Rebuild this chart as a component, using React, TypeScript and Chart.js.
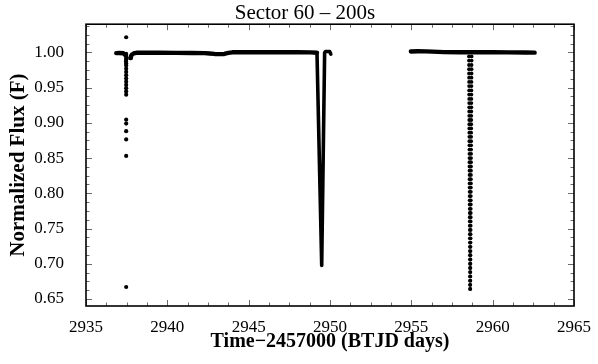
import { useEffect, useRef } from "react";
import { Chart, registerables } from "chart.js";

Chart.register(...registerables);

const SERIF = "'Liberation Serif', 'Times New Roman', Times, serif";

const TITLE = "Sector 60 – 200s";
const X_TITLE = "Time−2457000 (BTJD days)";
const Y_TITLE = "Normalized Flux (F)";

const X_MIN = 2935;
const X_MAX = 2965;
const Y_MIN = 0.64;
const Y_MAX = 1.04;
const X_TICKS = [2935, 2940, 2945, 2950, 2955, 2960, 2965];
const Y_TICKS = [0.65, 0.7, 0.75, 0.8, 0.85, 0.9, 0.95, 1.0];

// Dense 200 s cadence baseline, drawn as a thick stroke (segment before the momentum-dump column)
const BAND_A1_TIME = [2936.86, 2937.05, 2937.3, 2937.42];
const BAND_A1_FLUX = [0.999, 0.9991, 0.9988, 0.996];

// Baseline of the first orbit, after the column, up to the first eclipse
const BAND_A2_TIME = [
  2937.72, 2937.76, 2937.83, 2937.95, 2938.1, 2938.6, 2939.5, 2940.5, 2941.5, 2942.3,
  2942.6, 2942.9, 2943.2, 2943.5, 2943.75, 2944.0, 2945.0, 2946.0, 2947.0, 2948.0,
  2948.8, 2949.2,
];
const BAND_A2_FLUX = [
  0.992, 0.9945, 0.997, 0.9988, 0.9994, 0.9995, 0.9994, 0.9993, 0.9992, 0.999,
  0.9984, 0.9978, 0.9975, 0.9978, 0.9992, 1.0001, 1.0002, 1.0002, 1.0001, 1.0001,
  1.0, 0.9995,
];

// First (primary) eclipse and the short stretch after it
const DIP1_TIME = [2949.2, 2949.49, 2949.67, 2949.72, 2949.98, 2950.05];
const DIP1_FLUX = [0.9995, 0.6975, 0.9995, 1.0012, 1.0012, 0.9975];

// Baseline of the second orbit
const BAND_B_TIME = [
  2954.97, 2955.4, 2955.9, 2956.3, 2957.0, 2958.0, 2959.0, 2960.0, 2961.0, 2962.0, 2962.58,
];
const BAND_B_FLUX = [
  1.0012, 1.0016, 1.0014, 1.001, 1.0004, 1.0002, 1.0002, 1.0001, 1.0, 0.9998, 0.9996,
];

// Scattered points in the column near 2937.47
const COLUMN_TIME = [
  2937.47, 2937.47, 2937.46, 2937.47, 2937.47, 2937.46, 2937.47, 2937.47, 2937.47, 2937.47,
  2937.47, 2937.47, 2937.47, 2937.47, 2937.47, 2937.47, 2937.47, 2937.47, 2937.47, 2937.47,
  2937.47, 2937.47,
];
const COLUMN_FLUX = [
  1.0215, 0.9978, 0.9952, 0.9925, 0.9898, 0.987, 0.9842, 0.9815, 0.9768, 0.9722,
  0.9676, 0.963, 0.9584, 0.9538, 0.9492, 0.9446, 0.94, 0.9045, 0.899, 0.8882,
  0.8765, 0.853,
];
const COLUMN_LOW_TIME = [2937.47];
const COLUMN_LOW_FLUX = [0.667];

// Second eclipse: individual cadences (ingress and egress), top to bottom
const DIP2_FLUX = [
  0.9942, 0.9883, 0.9821, 0.9762, 0.97, 0.9641, 0.958, 0.9522, 0.946, 0.9401,
  0.934, 0.9281, 0.922, 0.9161, 0.91, 0.904, 0.898, 0.8921, 0.886, 0.8801,
  0.874, 0.8681, 0.862, 0.856, 0.85, 0.8441, 0.838, 0.8321, 0.826, 0.82,
  0.814, 0.8081, 0.802, 0.796, 0.79, 0.7841, 0.778, 0.772, 0.766, 0.7601,
  0.754, 0.748, 0.742, 0.7361, 0.73, 0.724, 0.718, 0.7121, 0.706, 0.7,
  0.694, 0.6881, 0.682, 0.676, 0.67, 0.6642,
];
const DIP2_INGRESS_TIME = [
  2958.545, 2958.546, 2958.547, 2958.548, 2958.55, 2958.551, 2958.552, 2958.553, 2958.555, 2958.556,
  2958.557, 2958.558, 2958.56, 2958.561, 2958.562, 2958.563, 2958.565, 2958.566, 2958.567, 2958.568,
  2958.57, 2958.571, 2958.572, 2958.573, 2958.575, 2958.576, 2958.577, 2958.578, 2958.58, 2958.581,
  2958.582, 2958.583, 2958.585, 2958.586, 2958.587, 2958.588, 2958.59, 2958.591, 2958.592, 2958.593,
  2958.595, 2958.596, 2958.597, 2958.598, 2958.6, 2958.601, 2958.602, 2958.603, 2958.605, 2958.606,
  2958.607, 2958.608, 2958.61, 2958.611, 2958.612, 2958.613,
];
const DIP2_EGRESS_TIME = [
  2958.705, 2958.704, 2958.702, 2958.701, 2958.699, 2958.698, 2958.696, 2958.695, 2958.693, 2958.692,
  2958.69, 2958.689, 2958.687, 2958.686, 2958.684, 2958.683, 2958.681, 2958.68, 2958.678, 2958.677,
  2958.675, 2958.674, 2958.672, 2958.671, 2958.669, 2958.668, 2958.666, 2958.665, 2958.663, 2958.662,
  2958.66, 2958.659, 2958.657, 2958.656, 2958.654, 2958.653, 2958.651, 2958.65, 2958.648, 2958.647,
  2958.645, 2958.644, 2958.642, 2958.641, 2958.639, 2958.638, 2958.636, 2958.635, 2958.633, 2958.632,
  2958.63, 2958.629, 2958.627, 2958.626, 2958.624, 2958.623,
];

const pts = (t: number[], f: number[]) => t.map((x, i) => ({ x, y: f[i] }));

const framePlugin = {
  id: "frameTicks",
  afterDatasetsDraw(chart: any) {
    const { ctx, chartArea: a, scales } = chart;
    const xs = scales.x;
    const ys = scales.y;
    ctx.save();
    // inward ticks on all four sides
    ctx.strokeStyle = "#6a6a6a";
    ctx.lineWidth = 1;
    const dx = (X_TICKS[1] - X_TICKS[0]) / 4;
    for (let k = 0; X_MIN + k * dx <= X_MAX + 1e-9; k++) {
      const v = X_MIN + k * dx;
      const px = Math.round(xs.getPixelForValue(v)) + 0.5;
      const len = k % 4 === 0 ? 6 : 3.5;
      ctx.beginPath();
      ctx.moveTo(px, a.bottom);
      ctx.lineTo(px, a.bottom - len);
      ctx.moveTo(px, a.top);
      ctx.lineTo(px, a.top + len);
      ctx.stroke();
    }
    const dy = (Y_TICKS[1] - Y_TICKS[0]) / 4;
    for (let k = -4; Y_TICKS[0] + k * dy <= Y_MAX + 1e-9; k++) {
      const v = Y_TICKS[0] + k * dy;
      if (v < Y_MIN - 1e-9) continue;
      const py = Math.round(ys.getPixelForValue(v)) + 0.5;
      const len = ((k % 4) + 4) % 4 === 0 ? 6 : 3.5;
      ctx.beginPath();
      ctx.moveTo(a.left, py);
      ctx.lineTo(a.left + len, py);
      ctx.moveTo(a.right, py);
      ctx.lineTo(a.right - len, py);
      ctx.stroke();
    }
    // frame
    ctx.strokeStyle = "#000";
    ctx.lineWidth = 1.6;
    ctx.strokeRect(a.left, a.top, a.right - a.left, a.bottom - a.top);
    // main title
    ctx.fillStyle = "#000";
    ctx.font = `21px ${SERIF}`;
    ctx.textAlign = "center";
    ctx.textBaseline = "alphabetic";
    ctx.fillText(TITLE, 305, 18.5);
    ctx.restore();
  },
};

export default function App() {
  const ref = useRef<HTMLCanvasElement | null>(null);

  useEffect(() => {
    if (!ref.current) return;
    const bandStyle = {
      showLine: true,
      borderColor: "#000",
      backgroundColor: "#000",
      borderWidth: 4.4,
      borderCapStyle: "round" as const,
      borderJoinStyle: "round" as const,
      pointRadius: 0,
      tension: 0,
    };
    const dotStyle = {
      showLine: false,
      pointRadius: 2.1,
      pointBackgroundColor: "#000",
      pointBorderWidth: 0,
      borderColor: "#000",
    };
    const chart = new Chart(ref.current, {
      type: "scatter",
      data: {
        datasets: [
          { ...bandStyle, data: pts(BAND_A1_TIME, BAND_A1_FLUX) },
          { ...bandStyle, data: pts(BAND_A2_TIME, BAND_A2_FLUX) },
          { ...bandStyle, borderWidth: 3.6, data: pts(DIP1_TIME, DIP1_FLUX) },
          { ...bandStyle, data: pts(BAND_B_TIME, BAND_B_FLUX) },
          { ...dotStyle, data: pts(COLUMN_TIME, COLUMN_FLUX) },
          { ...dotStyle, data: pts(COLUMN_LOW_TIME, COLUMN_LOW_FLUX) },
          { ...dotStyle, pointRadius: 1.9, data: pts(DIP2_INGRESS_TIME, DIP2_FLUX) },
          { ...dotStyle, pointRadius: 1.9, data: pts(DIP2_EGRESS_TIME, DIP2_FLUX) },
        ] as any,
      },
      options: {
        animation: false,
        responsive: false,
        maintainAspectRatio: false,
        layout: { padding: { top: 21.5, right: 24, left: 0, bottom: 0 } },
        plugins: {
          legend: { display: false },
          title: { display: false },
          tooltip: { enabled: false },
        },
        scales: {
          x: {
            type: "linear",
            min: X_MIN,
            max: X_MAX,
            afterFit: (s: any) => {
              s.height = 58;
            },
            afterBuildTicks: (s: any) => {
              s.ticks = X_TICKS.map((v) => ({ value: v }));
            },
            grid: { display: false },
            border: { display: false },
            ticks: {
              autoSkip: false,
              maxRotation: 0,
              color: "#000",
              padding: 3,
              font: { family: SERIF, size: 17 },
              callback: (v: any) => String(v),
            },
            title: {
              display: true,
              text: X_TITLE,
              color: "#000",
              font: { family: SERIF, size: 20, weight: "bold" },
              padding: { top: 0, bottom: 10 },
            },
          },
          y: {
            type: "linear",
            min: Y_MIN,
            max: Y_MAX,
            afterFit: (s: any) => {
              s.width = 86;
            },
            afterBuildTicks: (s: any) => {
              s.ticks = Y_TICKS.map((v) => ({ value: v }));
            },
            grid: { display: false },
            border: { display: false },
            ticks: {
              autoSkip: false,
              color: "#000",
              padding: 14,
              font: { family: SERIF, size: 17 },
              callback: (v: any) => Number(v).toFixed(2),
            },
            title: {
              display: true,
              text: Y_TITLE,
              color: "#000",
              font: { family: SERIF, size: 21, weight: "bold" },
              padding: { top: 6, bottom: 0 },
            },
          },
        },
      } as any,
      plugins: [framePlugin],
    });
    return () => chart.destroy();
  }, []);

  return (
    <div style={{ position: "absolute", left: 0, top: 0, width: 598, height: 364, background: "#fff" }}>
      <canvas ref={ref} width={598} height={364} style={{ width: 598, height: 364, display: "block" }} />
    </div>
  );
}
